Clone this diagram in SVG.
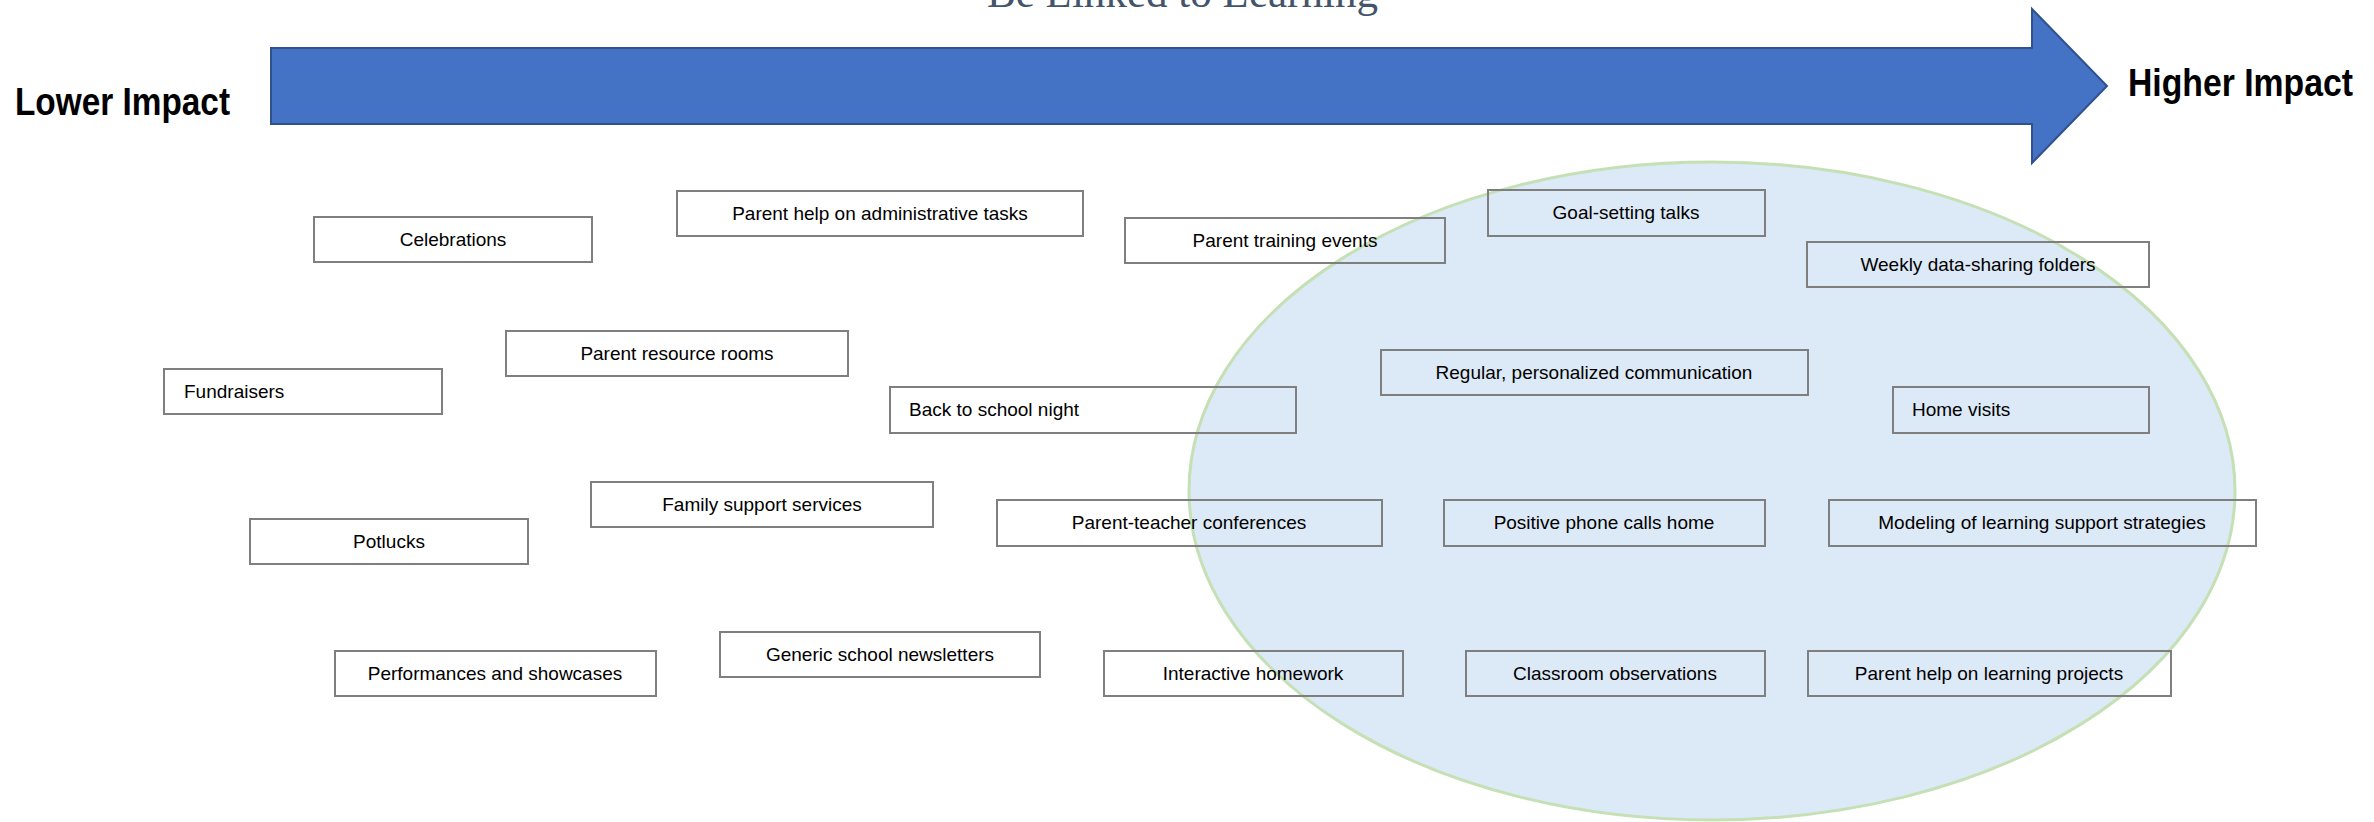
<svg xmlns="http://www.w3.org/2000/svg" width="2374" height="822" viewBox="0 0 2374 822">
<style>
.box{fill:none;stroke:#7F7F7F;stroke-width:2}
.lbl{font-family:"Liberation Sans",Arial,sans-serif;font-size:19px;fill:#000}
.c{text-anchor:middle}
.imp{font-family:"Liberation Sans",Arial,sans-serif;font-weight:bold;font-size:39px;fill:#000}
</style>
<rect width="2374" height="822" fill="#fff"/>
<text x="987" y="7" font-family="'Liberation Serif','Times New Roman',serif" font-size="43" fill="#44546A" textLength="391" lengthAdjust="spacingAndGlyphs">Be Linked to Learning</text>
<g id="impact-arrow">
<path d="M271,48 H2032 V9 L2107,86 L2032,163 V124 H271 Z" fill="#4472C4" stroke="#2F528F" stroke-width="2"/>
</g>
<text class="imp" x="15" y="115" textLength="215" lengthAdjust="spacingAndGlyphs">Lower Impact</text>
<text class="imp" x="2128" y="96" textLength="225" lengthAdjust="spacingAndGlyphs">Higher Impact</text>
<g id="learning-zone">
<ellipse cx="1712" cy="491" rx="523" ry="329" fill="#DCE9F6" stroke="#C5E0B4" stroke-width="3"/>
</g>
<g id="celebrations"><rect class="box" x="314" y="217" width="278" height="45"/><text class="lbl c" x="453" y="246">Celebrations</text></g>
<g id="admin-tasks"><rect class="box" x="677" y="191" width="406" height="45"/><text class="lbl c" x="880" y="220">Parent help on administrative tasks</text></g>
<g id="training-events"><rect class="box" x="1125" y="218" width="320" height="45"/><text class="lbl c" x="1285" y="247">Parent training events</text></g>
<g id="goal-setting"><rect class="box" x="1488" y="190" width="277" height="46"/><text class="lbl c" x="1626" y="219">Goal-setting talks</text></g>
<g id="weekly-folders"><rect class="box" x="1807" y="242" width="342" height="45"/><text class="lbl c" x="1978" y="271">Weekly data-sharing folders</text></g>
<g id="resource-rooms"><rect class="box" x="506" y="331" width="342" height="45"/><text class="lbl c" x="677" y="360">Parent resource rooms</text></g>
<g id="fundraisers"><rect class="box" x="164" y="369" width="278" height="45"/><text class="lbl" x="184" y="398">Fundraisers</text></g>
<g id="back-to-school"><rect class="box" x="890" y="387" width="406" height="46"/><text class="lbl" x="909" y="416">Back to school night</text></g>
<g id="personalized-communication"><rect class="box" x="1381" y="350" width="427" height="45"/><text class="lbl c" x="1594" y="379">Regular, personalized communication</text></g>
<g id="home-visits"><rect class="box" x="1893" y="387" width="256" height="46"/><text class="lbl" x="1912" y="416">Home visits</text></g>
<g id="family-support"><rect class="box" x="591" y="482" width="342" height="45"/><text class="lbl c" x="762" y="511">Family support services</text></g>
<g id="potlucks"><rect class="box" x="250" y="519" width="278" height="45"/><text class="lbl c" x="389" y="548">Potlucks</text></g>
<g id="parent-teacher"><rect class="box" x="997" y="500" width="385" height="46"/><text class="lbl c" x="1189" y="529">Parent-teacher conferences</text></g>
<g id="phone-calls"><rect class="box" x="1444" y="500" width="321" height="46"/><text class="lbl c" x="1604" y="529">Positive phone calls home</text></g>
<g id="modeling"><rect class="box" x="1829" y="500" width="427" height="46"/><text class="lbl c" x="2042" y="529">Modeling of learning support strategies</text></g>
<g id="performances"><rect class="box" x="335" y="651" width="321" height="45"/><text class="lbl c" x="495" y="680">Performances and showcases</text></g>
<g id="newsletters"><rect class="box" x="720" y="632" width="320" height="45"/><text class="lbl c" x="880" y="661">Generic school newsletters</text></g>
<g id="interactive-homework"><rect class="box" x="1104" y="651" width="299" height="45"/><text class="lbl c" x="1253" y="680">Interactive homework</text></g>
<g id="classroom-observations"><rect class="box" x="1466" y="651" width="299" height="45"/><text class="lbl c" x="1615" y="680">Classroom observations</text></g>
<g id="learning-projects"><rect class="box" x="1808" y="651" width="363" height="45"/><text class="lbl c" x="1989" y="680">Parent help on learning projects</text></g>
</svg>
